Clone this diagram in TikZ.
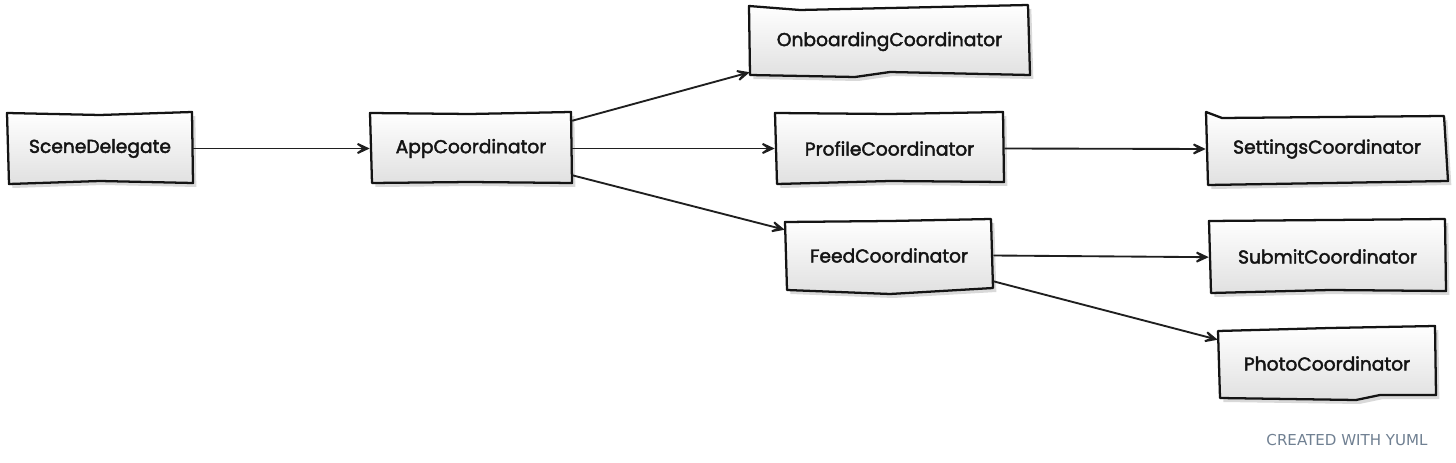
\documentclass[tikz,border=0pt]{standalone}
\usepackage{fontspec}
\setmainfont{Poppins}
\newfontfamily\boxfont{Poppins}[FakeBold=2.2]
\newfontfamily\credfont{DejaVu Sans}
\definecolor{credgray}{RGB}{112,128,146}
\usetikzlibrary{arrows.meta,shadows}
\tikzset{
  box/.style={inner sep=0pt, font=\boxfont\fontsize{14}{16}\selectfont, text=black!92},
  boxfill/.style={draw=black!92, line width=1.7pt, line join=round,
    top color=white, bottom color=black!12,
    drop shadow={shadow xshift=2.5pt, shadow yshift=-3pt, opacity=0.15, fill=black}},
  arr/.style={draw=black!88, line width=1.4pt,
    -{Stealth[length=15pt, width=14pt, inset=9.5pt]}},
}
\begin{document}
\begin{tikzpicture}[x=0.75pt, y=-0.75pt]
\useasboundingbox[fill=white] (0,0) rectangle (1456,463);
% boxes (fills first)
\path[boxfill] (7,113) -- (100,115) -- (192,112) -- (193,183) -- (100,181) -- (9,184) -- cycle;
\path[boxfill] (370,113) -- (470,114) -- (571,112) -- (572,183) -- (470,182) -- (372,183) -- cycle;
\path[boxfill] (749,6) -- (800,10) -- (1028,5) -- (1030,75) -- (890,72) -- (855,77) -- (750,75) -- cycle;
\path[boxfill] (775,113) -- (890,114) -- (1003,112) -- (1004,182) -- (890,181) -- (777,184) -- cycle;
\path[boxfill] (1206,112) -- (1222,118) -- (1444,116) -- (1448,181) -- (1330,183) -- (1208,185) -- cycle;
\path[boxfill] (785,222) -- (890,221) -- (991,219) -- (993,288) -- (890,294) -- (787,290) -- cycle;
\path[boxfill] (1209,221) -- (1330,220) -- (1445,219) -- (1446,291) -- (1330,290) -- (1211,293) -- cycle;
\path[boxfill] (1218,331) -- (1330,328) -- (1435,326) -- (1436,395) -- (1380,395) -- (1356,400) -- (1220,398) -- cycle;
% nodes (text + anchors)
\node[box, minimum width=186*0.75pt, minimum height=71*0.75pt] (sd) at (100,148.5) {SceneDelegate};
\node[box, minimum width=202*0.75pt, minimum height=71*0.75pt] (app) at (471,148.5) {AppCoordinator};
\node[box, minimum width=281*0.75pt, minimum height=71*0.75pt] (onb) at (889.5,41.5) {OnboardingCoordinator};
\node[box, minimum width=229*0.75pt, minimum height=71*0.75pt] (prof) at (889.5,148.5) {ProfileCoordinator};
\node[box, minimum width=242*0.75pt, minimum height=72*0.75pt] (set) at (1327,149) {SettingsCoordinator};
\node[box, minimum width=208*0.75pt, minimum height=71*0.75pt] (feed) at (889,255.5) {FeedCoordinator};
\node[box, minimum width=237*0.75pt, minimum height=73*0.75pt] (sub) at (1327.5,256.5) {SubmitCoordinator};
\node[box, minimum width=218*0.75pt, minimum height=73*0.75pt] (photo) at (1327,363.5) {PhotoCoordinator};
% connectors
\draw[arr] (sd.east) -- (app.west);
\draw[arr] ([shift={(0,8)}]app.north east) -- ([shift={(1,-5)}]onb.south west);
\draw[arr] (app.east) -- (prof.west);
\draw[arr] ([shift={(0,-9)}]app.south east) -- ([shift={(0,10)}]feed.north west);
\draw[arr] (prof.east) -- (set.west);
\draw[arr] (feed.east) -- ([yshift=-0.5pt]sub.west);
\draw[arr] ([shift={(0,-10)}]feed.south east) -- ([shift={(0,13)}]photo.north west);
% credit
\node[font=\credfont\fontsize{11.3}{13}\selectfont, text=credgray, anchor=center] (credit) at (1347,440) {CREATED WITH YUML};
\end{tikzpicture}
\end{document}
